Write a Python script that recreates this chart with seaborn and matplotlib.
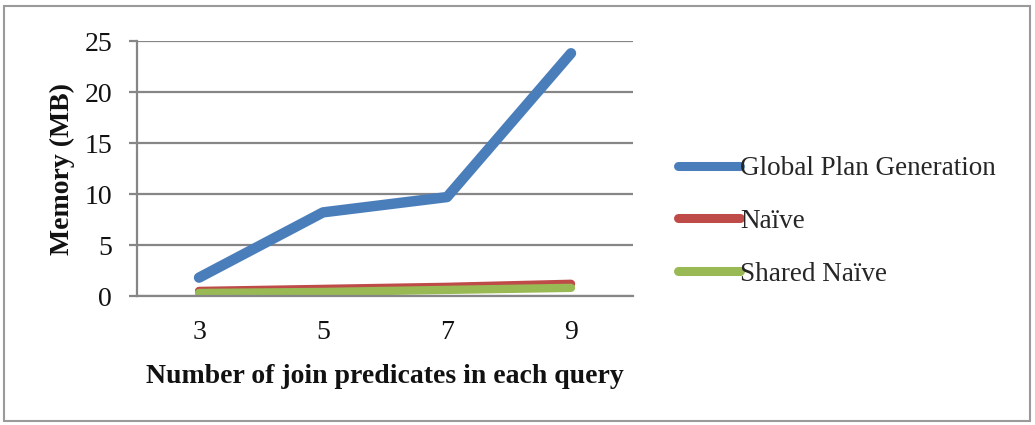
import matplotlib
matplotlib.use("Agg")
import matplotlib.pyplot as plt
import seaborn as sns
import pandas as pd
from matplotlib.patches import Rectangle

# Memory used per query workload
join_predicates = [3, 5, 7, 9]
global_plan = [1.8, 8.2, 9.7, 23.8]
naive = [0.5, 0.7, 0.9, 1.2]
shared_naive = [0.3, 0.4, 0.6, 0.8]
series_names = ["Global Plan Generation", "Naïve", "Shared Naïve"]
y_ticks = [0, 5, 10, 15, 20, 25]

df = pd.DataFrame({
    "joins": join_predicates * 3,
    "memory": global_plan + naive + shared_naive,
    "series": [series_names[0]] * 4 + [series_names[1]] * 4 + [series_names[2]] * 4,
})

sns.set_theme(style="white")
plt.rcParams["font.family"] = ["Liberation Serif", "DejaVu Serif"]

palette = {series_names[0]: "#4A7EBB", series_names[1]: "#BE4B48", series_names[2]: "#98B954"}
widths = {series_names[0]: 7.5, series_names[1]: 6.0, series_names[2]: 6.0}

fig = plt.figure(figsize=(10.35, 4.25), dpi=100)
ax = fig.add_axes([0.1324, 0.3035, 0.4792, 0.6000])

for name in series_names:
    sns.lineplot(data=df[df["series"] == name], x="joins", y="memory", ax=ax,
                 color=palette[name], linewidth=widths[name], label=name,
                 solid_capstyle="round", solid_joinstyle="round", legend=False)

grid_color = "#868686"
text_color = "#111111"
ax.set_xlim(2, 10)
ax.set_ylim(0, 25)
ax.set_yticks(y_ticks)
ax.set_xticks(join_predicates)
ax.yaxis.grid(True, color=grid_color, linewidth=1.6)
ax.set_axisbelow(True)
for side in ["top", "right"]:
    ax.spines[side].set_visible(False)
for side in ["left", "bottom"]:
    ax.spines[side].set_color(grid_color)
    ax.spines[side].set_linewidth(1.6)
ax.tick_params(axis="y", which="major", direction="out", length=6, width=1.6,
               color=grid_color, left=True, labelsize=20, pad=12, labelcolor=text_color)
ax.tick_params(axis="x", length=0, labelsize=20, pad=17.5, labelcolor=text_color)

ax.set_xlabel("Number of join predicates in each query", fontsize=20, fontweight="bold",
              labelpad=13.5, color=text_color)
ax.set_ylabel("Memory (MB)", fontsize=20, fontweight="bold", labelpad=7, color=text_color)

handles, labels = ax.get_legend_handles_labels()
leg = fig.legend(handles, labels, loc="center left", bbox_to_anchor=(0.6444, 0.479),
                 frameon=False, fontsize=19.5, handlelength=2.3, handletextpad=0.0,
                 labelspacing=1.03, borderaxespad=0)
for line in leg.get_lines():
    line.set_linewidth(6.5)
    line.set_solid_capstyle("round")

fig.patches.append(Rectangle((0.004, 0.009), 0.991, 0.977, transform=fig.transFigure,
                             fill=False, edgecolor="#9a9a9a", linewidth=1.5))

fig.savefig("out.png", dpi=100)
